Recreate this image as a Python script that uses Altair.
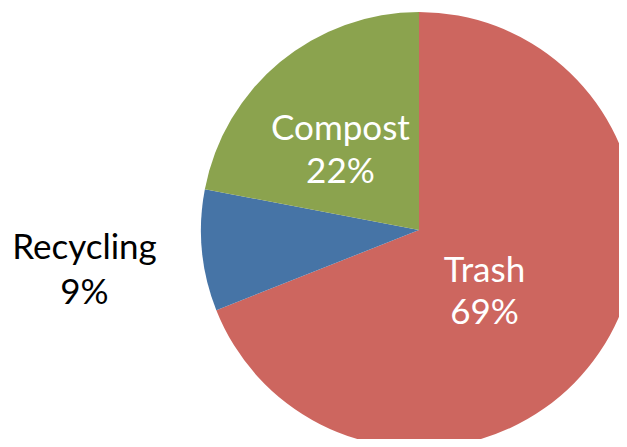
import altair as alt
import pandas as pd

categories = ["Trash", "Recycling", "Compost"]
values = [69, 9, 22]
labels = ["Trash\n69%", "Recycling\n9%", "Compost\n22%"]
colors = ["#CD665F", "#4674A6", "#8BA34E"]

df = pd.DataFrame({
    "category": categories,
    "value": values,
    "label": labels,
    "order": list(range(len(categories))),
})

cx, cy, R = 411, 222, 218
total = sum(values)

pie = alt.Chart(df).mark_arc(outerRadius=R, strokeWidth=0).encode(
    theta=alt.Theta("value:Q", stack=True),
    order=alt.Order("order:Q"),
    x=alt.value(cx), y=alt.value(cy),
    color=alt.Color("category:N", scale=alt.Scale(domain=categories, range=colors), legend=None),
)

tbase = alt.Chart(df).transform_window(
    cum="sum(value)", sort=[alt.SortField("order")]
).transform_calculate(
    mid="datum.cum - datum.value / 2"
).encode(
    theta=alt.Theta("mid:Q", stack=None, scale=alt.Scale(domain=[0, total])),
    x=alt.value(cx), y=alt.value(cy),
    text="label:N",
)

style = dict(fontSize=35, font="Lato", lineBreak="\n", align="center", baseline="middle")

trash_t = tbase.mark_text(radius=78, dx=1, dy=-3, color="white", lineHeight=42, **style
    ).transform_filter(alt.datum.category == "Trash")
compost_t = tbase.mark_text(radius=128, dx=3, dy=-2, color="white", lineHeight=43, **style
    ).transform_filter(alt.datum.category == "Compost")
recyc_t = tbase.mark_text(radius=335, dx=-1, dy=-14, color="black", lineHeight=45, **style
    ).transform_filter(alt.datum.category == "Recycling")

chart = alt.layer(pie, trash_t, compost_t, recyc_t).resolve_scale(theta="independent").properties(
    width=611, height=431, padding=0,
    autosize=alt.AutoSizeParams(type="none"),
).configure_view(stroke=None)

chart.save("out.html", embed_options={"renderer": "svg", "actions": False})
